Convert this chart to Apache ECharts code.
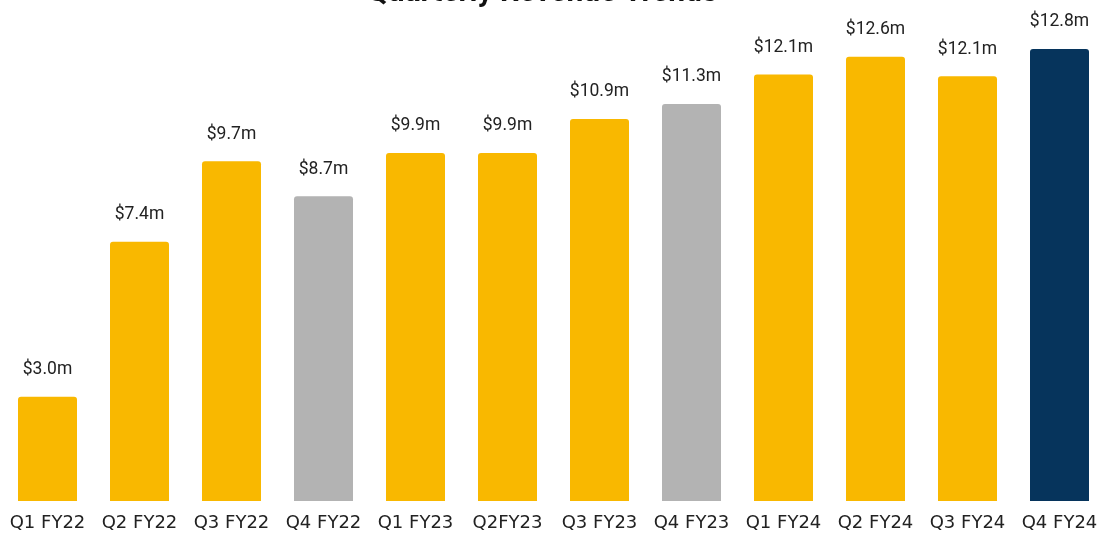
<!DOCTYPE html>
<html>
<head>
<meta charset="utf-8">
<script src="https://cdn.jsdelivr.net/npm/echarts@6/dist/echarts.min.js"></script>
<style>html,body{margin:0;padding:0;background:#fff;overflow:hidden;}#c{width:1106px;height:536px;}</style>
</head>
<body>
<div id="c"></div>
<script>
const categories = ["Q1 FY22","Q2 FY22","Q3 FY22","Q4 FY22","Q1 FY23","Q2FY23","Q3 FY23","Q4 FY23","Q1 FY24","Q2 FY24","Q3 FY24","Q4 FY24"];
// bar heights (revenue, $m)
const revenue = [2.97, 7.39, 9.69, 8.69, 9.92, 9.92, 10.89, 11.32, 12.16, 12.67, 12.11, 12.89];
// value labels as printed on the chart
const valueLabels = ["$3.0m","$7.4m","$9.7m","$8.7m","$9.9m","$9.9m","$10.9m","$11.3m","$12.1m","$12.6m","$12.1m","$12.8m"];
const barColors = ["#F9B800","#F9B800","#F9B800","#B3B3B3","#F9B800","#F9B800","#F9B800","#B3B3B3","#F9B800","#F9B800","#F9B800","#06345C"];

const chart = echarts.init(document.getElementById('c'));
chart.setOption({
  animation: false,
  title: {
    text: 'Quarterly Revenue Trends',
    left: 362,
    top: -27,
    textStyle: { fontFamily: 'Roboto', fontWeight: 'bold', fontSize: 30, color: '#111' }
  },
  grid: { left: 1.5, right: 0.5, top: 10, bottom: 35, containLabel: false },
  xAxis: {
    type: 'category',
    data: categories,
    axisLine: { show: false },
    axisTick: { show: false },
    axisLabel: { fontFamily: 'DejaVu Sans', fontSize: 18, color: '#222', margin: 13, interval: 0 }
  },
  yAxis: {
    type: 'value', min: 0, max: 14, show: false,
    splitLine: { show: false }
  },
  series: [{
    type: 'bar',
    data: revenue.map((v, i) => ({ value: v, itemStyle: { color: barColors[i] } })),
    barWidth: 59,
    itemStyle: { borderRadius: [3, 3, 0, 0] },
    label: {
      show: true, position: 'top', distance: 18,
      fontFamily: 'Roboto', fontSize: 17.5, color: '#222',
      formatter: p => valueLabels[p.dataIndex]
    }
  }]
});
</script>
</body>
</html>
